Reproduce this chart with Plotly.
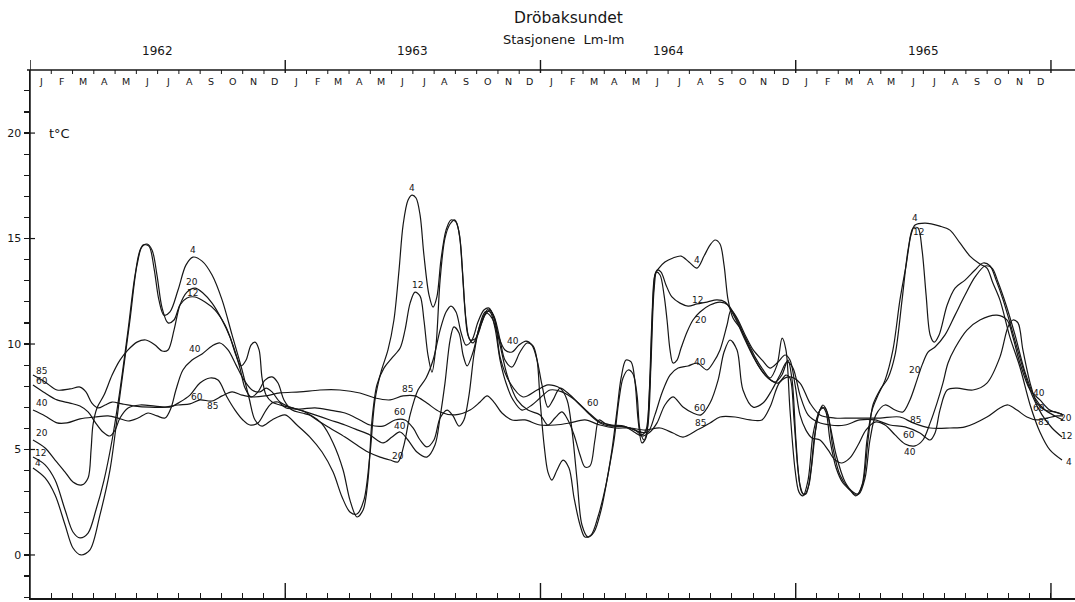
import plotly.graph_objects as go

# Drøbaksundet, stations Lm-Im: temperature (deg C) at six depths, Jan 1962 - Dec 1965.
# x = months since 1 Jan 1962, y = temperature.

MONTH_LETTERS = ["J", "F", "M", "A", "M", "J", "J", "A", "S", "O", "N", "D"]
YEARS = ["1962", "1963", "1964", "1965"]
Y_TICKS = list(range(-2, 23))
Y_LABELLED = [0, 5, 10, 15, 20]

depth_4 = [
    [0.14, 4.12], [0.71, 3.65], [1.18, 2.84], [1.65, 1.42], [2.02, 0.33], [2.40, 0.00],
    [2.82, 0.24], [3.29, 1.90], [3.76, 4.03], [4.23, 7.58], [4.70, 11.14], [5.03, 13.74],
    [5.31, 14.69], [5.59, 14.64], [5.83, 13.60], [6.06, 12.09], [6.30, 11.37], [6.58, 11.52],
    [6.96, 12.56], [7.33, 13.74], [7.66, 14.12], [8.09, 13.93], [8.56, 13.27], [9.03, 12.09],
    [9.50, 10.43], [9.97, 8.77], [10.30, 7.44], [10.58, 6.40], [10.91, 6.11], [11.38, 6.40],
    [11.99, 6.64], [12.55, 6.16], [13.16, 5.59], [13.73, 4.88], [14.25, 3.93], [14.67, 2.75],
    [15.04, 2.04], [15.37, 1.94], [15.70, 2.61], [15.98, 4.74], [16.22, 7.35], [16.50, 8.67],
    [16.83, 9.72], [17.11, 11.14], [17.35, 13.51], [17.54, 15.64], [17.77, 16.82], [17.96, 17.06],
    [18.15, 16.92], [18.34, 16.11], [18.52, 14.22], [18.76, 12.32], [18.95, 11.75], [19.13, 12.23],
    [19.32, 13.98], [19.56, 15.40], [19.79, 15.88], [20.03, 15.78], [20.22, 14.93], [20.36, 13.03],
    [20.50, 11.14], [20.69, 10.19], [20.97, 10.28], [21.25, 11.04], [21.53, 11.66], [21.81, 11.33],
    [22.10, 10.19], [22.33, 9.24], [22.66, 8.91], [23.04, 9.62], [23.37, 10.05], [23.65, 9.91],
    [23.84, 9.24], [23.98, 7.35], [24.17, 5.21], [24.35, 3.93], [24.54, 3.55], [24.78, 4.03],
    [25.06, 4.50], [25.34, 4.12], [25.58, 2.70], [25.86, 1.42], [26.09, 0.85], [26.38, 0.95],
    [26.70, 1.80], [27.08, 3.32], [27.36, 4.98], [27.60, 6.87], [27.79, 8.39], [28.02, 9.24],
    [28.26, 9.15], [28.45, 8.15], [28.59, 6.40], [28.77, 5.31], [28.96, 5.55], [29.10, 7.35],
    [29.24, 11.14], [29.38, 13.27], [29.57, 13.60], [29.85, 13.89], [30.23, 14.08], [30.61, 14.17],
    [30.98, 13.89], [31.36, 13.60], [31.69, 14.17], [31.97, 14.69], [32.21, 14.93], [32.44, 14.74],
    [32.63, 13.74], [32.82, 12.09], [33.05, 11.23], [33.38, 10.76], [33.76, 10.05], [34.09, 9.38],
    [34.41, 8.86], [34.79, 8.39], [35.12, 9.00], [35.36, 10.28], [35.54, 9.72], [35.73, 6.87],
    [35.97, 4.03], [36.15, 2.99], [36.34, 2.80], [36.58, 3.55], [36.81, 5.69], [37.04, 6.64],
    [37.24, 7.01], [37.42, 6.78], [37.61, 5.45], [37.90, 4.12], [38.22, 3.41], [38.55, 3.08],
    [38.83, 2.80], [39.12, 3.32], [39.35, 5.45], [39.59, 6.87], [39.87, 7.58], [40.20, 8.29],
    [40.57, 9.72], [40.90, 12.09], [41.19, 13.74], [41.42, 15.17], [41.61, 15.64], [42.08, 15.73],
    [42.78, 15.59], [43.25, 15.40], [43.72, 14.79], [44.19, 14.17], [44.66, 13.79], [44.99, 13.60],
    [45.27, 12.89], [45.60, 12.09], [46.07, 10.33], [46.54, 8.91], [47.02, 7.11], [47.48, 5.83],
    [47.95, 4.98], [48.52, 4.50],
]

depth_12 = [
    [0.14, 4.64], [0.71, 4.27], [1.18, 3.55], [1.65, 2.13], [2.02, 1.09], [2.35, 0.81],
    [2.73, 1.04], [3.10, 2.13], [3.48, 3.55], [3.86, 5.45], [4.23, 7.82], [4.61, 10.66],
    [4.94, 13.27], [5.22, 14.55], [5.50, 14.74], [5.74, 14.45], [5.97, 13.27], [6.21, 11.71],
    [6.49, 11.00], [6.77, 11.14], [7.05, 11.85], [7.38, 12.18], [7.76, 12.23], [8.23, 11.99],
    [8.70, 11.61], [9.17, 10.90], [9.54, 9.95], [9.87, 8.86], [10.11, 7.91], [10.39, 7.49],
    [10.72, 7.73], [11.05, 8.29], [11.38, 8.44], [11.66, 8.15], [11.94, 7.35], [12.32, 6.87],
    [12.79, 6.73], [13.26, 6.59], [13.73, 6.21], [14.25, 5.31], [14.72, 4.03], [15.04, 2.61],
    [15.37, 1.80], [15.66, 2.13], [15.89, 3.55], [16.08, 6.40], [16.31, 8.06], [16.64, 8.86],
    [17.02, 9.34], [17.40, 9.81], [17.63, 10.66], [17.87, 11.94], [18.10, 12.46], [18.34, 12.27],
    [18.52, 11.14], [18.71, 9.48], [18.90, 8.67], [19.09, 9.95], [19.28, 13.03], [19.51, 15.02],
    [19.75, 15.69], [19.98, 15.88], [20.17, 15.31], [20.31, 13.74], [20.45, 11.61], [20.59, 10.43],
    [20.83, 10.05], [21.11, 10.66], [21.39, 11.37], [21.63, 11.61], [21.86, 11.14], [22.10, 9.38],
    [22.57, 8.15], [23.18, 7.49], [23.84, 7.82], [24.35, 8.06], [24.92, 7.91], [25.25, 7.35],
    [25.48, 5.92], [25.72, 3.55], [25.95, 1.42], [26.23, 0.85], [26.52, 1.09], [26.85, 2.13],
    [27.17, 3.79], [27.46, 5.45], [27.69, 7.35], [27.88, 8.39], [28.12, 8.77], [28.35, 8.58],
    [28.54, 7.58], [28.68, 5.92], [28.87, 5.45], [29.05, 6.16], [29.20, 9.24], [29.34, 12.56],
    [29.48, 13.51], [29.67, 13.41], [29.90, 12.80], [30.18, 12.23], [30.56, 11.94], [30.94, 11.80],
    [31.36, 11.90], [31.83, 11.99], [32.30, 12.09], [32.68, 11.99], [33.15, 11.23], [33.62, 10.19],
    [34.09, 9.24], [34.56, 8.53], [35.03, 8.20], [35.35, 8.53], [35.63, 9.24], [35.83, 8.29],
    [36.01, 5.45], [36.20, 3.32], [36.39, 2.84], [36.62, 3.32], [36.86, 5.45], [37.09, 6.73],
    [37.28, 7.11], [37.52, 6.64], [37.75, 5.07], [38.08, 3.79], [38.46, 3.18], [38.88, 2.84],
    [39.16, 3.41], [39.40, 5.45], [39.63, 7.11], [39.96, 7.82], [40.34, 8.39], [40.67, 9.48],
    [41.00, 12.09], [41.28, 14.45], [41.52, 15.50], [41.75, 15.50], [41.94, 14.45], [42.13, 12.32],
    [42.32, 10.43], [42.51, 10.09], [42.74, 10.43], [43.12, 11.85], [43.49, 12.65], [43.96, 13.03],
    [44.43, 13.51], [44.81, 13.84], [45.14, 13.70], [45.42, 13.03], [45.75, 12.09], [46.17, 10.66],
    [46.64, 9.00], [47.11, 7.58], [47.58, 6.64], [48.05, 6.02], [48.52, 5.59],
]

depth_20 = [
    [0.14, 5.45], [0.71, 5.07], [1.18, 4.50], [1.65, 3.93], [2.02, 3.46], [2.44, 3.32],
    [2.73, 3.65], [2.87, 4.98], [2.96, 6.16], [3.15, 6.97], [3.48, 7.58], [3.86, 8.53],
    [4.23, 9.24], [4.61, 9.72], [5.03, 10.09], [5.45, 10.19], [5.88, 9.95], [6.21, 9.67],
    [6.49, 9.72], [6.77, 10.66], [7.05, 11.85], [7.38, 12.46], [7.76, 12.65], [8.13, 12.42],
    [8.56, 11.94], [9.03, 11.14], [9.40, 10.33], [9.68, 9.48], [9.92, 8.96], [10.16, 9.24],
    [10.39, 9.95], [10.58, 10.09], [10.77, 9.72], [10.91, 8.39], [11.10, 7.58], [11.38, 7.25],
    [11.75, 7.11], [12.32, 6.97], [12.93, 6.78], [13.49, 6.40], [14.10, 6.02], [14.81, 5.59],
    [15.37, 5.21], [15.89, 4.88], [16.46, 4.64], [16.93, 4.50], [17.30, 4.41], [17.58, 5.21],
    [17.87, 6.64], [18.24, 7.82], [18.62, 8.39], [18.95, 9.24], [19.28, 10.66], [19.56, 11.52],
    [19.79, 11.80], [20.03, 11.52], [20.26, 10.57], [20.50, 9.95], [20.78, 10.19], [21.06, 11.04],
    [21.34, 11.61], [21.58, 11.71], [21.81, 11.23], [22.10, 9.95], [22.43, 8.53], [22.90, 7.35],
    [23.41, 6.87], [23.98, 6.64], [24.35, 6.16], [24.68, 6.49], [25.01, 6.78], [25.29, 6.40],
    [25.58, 5.69], [25.86, 4.74], [26.09, 4.17], [26.33, 4.22], [26.56, 5.45], [26.75, 6.40],
    [27.08, 6.21], [27.50, 6.11], [27.97, 6.07], [28.45, 5.92], [28.77, 5.69], [28.96, 5.92],
    [29.15, 8.29], [29.29, 12.09], [29.43, 13.41], [29.62, 13.27], [29.81, 12.32], [29.95, 11.14],
    [30.09, 9.72], [30.23, 9.10], [30.42, 9.24], [30.61, 9.81], [30.89, 10.57], [31.17, 11.14],
    [31.50, 11.52], [31.97, 11.85], [32.44, 11.99], [32.82, 11.85], [33.29, 11.04], [33.76, 9.95],
    [34.23, 9.00], [34.70, 8.39], [35.17, 8.15], [35.54, 8.53], [35.73, 8.39], [35.92, 6.40],
    [36.11, 4.03], [36.30, 2.94], [36.48, 2.89], [36.72, 4.03], [36.95, 6.02], [37.14, 6.87],
    [37.38, 6.97], [37.61, 6.16], [37.90, 4.74], [38.32, 3.46], [38.69, 2.99], [38.97, 2.89],
    [39.26, 3.65], [39.49, 5.45], [39.77, 6.64], [40.20, 7.11], [40.67, 6.87], [41.04, 6.78],
    [41.37, 7.35], [41.70, 8.29], [41.94, 9.00], [42.22, 9.62], [42.55, 9.86], [43.02, 10.43],
    [43.49, 11.37], [43.96, 12.32], [44.43, 13.18], [44.90, 13.70], [45.23, 13.60], [45.51, 12.94],
    [45.89, 11.85], [46.31, 10.43], [46.78, 8.67], [47.25, 7.44], [47.72, 6.87], [48.19, 6.59],
    [48.57, 6.40],
]

depth_40 = [
    [0.14, 6.87], [0.71, 6.59], [1.27, 6.26], [1.74, 6.26], [2.35, 6.45], [3.06, 6.54],
    [3.67, 6.59], [4.14, 6.49], [4.61, 6.35], [5.08, 6.49], [5.55, 6.73], [5.97, 6.59],
    [6.35, 6.49], [6.63, 6.97], [6.86, 7.82], [7.19, 8.77], [7.62, 9.24], [8.09, 9.53],
    [8.56, 9.91], [8.93, 10.05], [9.31, 9.72], [9.69, 9.00], [10.06, 8.29], [10.44, 7.82],
    [10.81, 7.73], [11.10, 7.91], [11.38, 7.73], [11.75, 7.25], [12.22, 7.01], [12.69, 6.87],
    [13.40, 6.64], [14.10, 6.40], [14.81, 6.16], [15.42, 5.92], [15.98, 5.69], [16.60, 5.31],
    [17.02, 5.59], [17.40, 5.83], [17.77, 5.45], [18.19, 4.88], [18.66, 4.64], [19.04, 5.21],
    [19.28, 6.54], [19.51, 8.15], [19.75, 10.19], [19.93, 10.81], [20.17, 10.52], [20.36, 9.48],
    [20.55, 8.96], [20.83, 9.62], [21.16, 10.90], [21.44, 11.47], [21.72, 11.23], [22.00, 10.43],
    [22.33, 9.72], [22.66, 9.62], [22.99, 9.95], [23.32, 10.14], [23.60, 9.95], [23.84, 9.24],
    [24.07, 8.06], [24.35, 7.01], [24.59, 7.35], [24.92, 7.91], [25.39, 7.58], [25.86, 7.11],
    [26.33, 6.64], [26.80, 6.26], [27.27, 6.11], [27.74, 6.11], [28.21, 6.02], [28.68, 5.83],
    [29.05, 5.83], [29.38, 6.64], [29.71, 7.68], [30.09, 8.53], [30.47, 8.86], [30.94, 8.96],
    [31.36, 9.10], [31.83, 8.77], [32.11, 9.10], [32.44, 9.72], [32.77, 10.90], [32.96, 11.61],
    [33.24, 11.23], [33.62, 10.43], [34.00, 9.72], [34.42, 9.24], [34.79, 8.86], [35.17, 9.15],
    [35.50, 9.48], [35.73, 9.24], [35.97, 8.06], [36.20, 6.64], [36.48, 5.92], [36.76, 5.55],
    [37.14, 5.45], [37.52, 4.98], [37.85, 4.50], [38.17, 4.36], [38.55, 4.60], [38.93, 5.21],
    [39.30, 5.92], [39.73, 6.30], [40.20, 6.16], [40.67, 5.69], [41.14, 5.26], [41.61, 5.17],
    [41.98, 5.45], [42.32, 6.26], [42.64, 7.20], [42.92, 8.15], [43.16, 9.10], [43.49, 9.81],
    [44.05, 10.66], [44.66, 11.14], [45.46, 11.37], [45.93, 11.14], [46.21, 10.33], [46.54, 9.10],
    [47.02, 7.82], [47.48, 7.35], [47.95, 6.87], [48.52, 6.68],
]

depth_60 = [
    [0.14, 8.06], [0.71, 7.68], [1.27, 7.35], [1.88, 7.20], [2.35, 7.06], [2.73, 6.78],
    [3.06, 6.30], [3.43, 5.83], [3.76, 5.64], [4.00, 5.92], [4.23, 6.49], [4.61, 6.97],
    [5.17, 7.11], [5.88, 7.06], [6.58, 7.01], [7.05, 7.25], [7.52, 7.58], [7.99, 8.15],
    [8.46, 8.39], [8.84, 8.29], [9.26, 7.49], [9.64, 6.87], [10.01, 6.40], [10.34, 6.16],
    [10.72, 6.26], [11.10, 6.87], [11.38, 7.20], [11.66, 7.25], [12.04, 6.97], [12.69, 6.92],
    [13.40, 6.97], [14.10, 6.87], [14.81, 6.73], [15.51, 6.40], [15.98, 6.16], [16.60, 6.11],
    [17.16, 6.40], [17.63, 6.40], [18.01, 6.02], [18.34, 5.45], [18.66, 5.12], [18.99, 5.45],
    [19.28, 6.49], [19.61, 6.87], [19.89, 6.59], [20.17, 6.11], [20.40, 6.40], [20.64, 7.58],
    [20.87, 9.48], [21.11, 10.76], [21.39, 11.52], [21.63, 11.52], [21.86, 10.76], [22.10, 9.24],
    [22.38, 8.15], [22.71, 7.35], [23.13, 6.87], [23.60, 7.11], [23.98, 7.44], [24.45, 7.82],
    [25.01, 7.73], [25.62, 7.35], [26.23, 6.78], [26.80, 6.30], [27.36, 6.16], [27.93, 6.11],
    [28.40, 5.83], [28.77, 5.64], [29.15, 5.83], [29.48, 6.26], [29.85, 7.11], [30.23, 7.49],
    [30.70, 7.01], [31.17, 6.73], [31.55, 6.64], [31.97, 7.20], [32.35, 8.29], [32.63, 9.62],
    [32.91, 10.19], [33.24, 9.72], [33.52, 7.82], [34.00, 7.01], [34.46, 7.20], [34.88, 7.82],
    [35.26, 8.53], [35.59, 9.15], [35.87, 8.86], [36.20, 7.58], [36.58, 6.64], [37.04, 6.30],
    [37.61, 6.16], [38.32, 6.16], [39.02, 6.40], [39.73, 6.40], [40.43, 6.16], [41.14, 6.07],
    [41.84, 5.78], [42.32, 5.45], [42.55, 5.78], [42.78, 6.87], [43.12, 7.82], [43.58, 7.91],
    [44.33, 7.82], [44.99, 8.15], [45.60, 9.38], [45.98, 10.81], [46.21, 11.14], [46.45, 11.00],
    [46.68, 9.72], [47.02, 8.15], [47.34, 7.20], [47.72, 6.87], [48.19, 6.78], [48.57, 6.64],
]

depth_85 = [
    [0.14, 8.53], [0.71, 8.20], [1.27, 7.82], [1.88, 7.87], [2.35, 7.96], [2.63, 7.73],
    [2.91, 7.20], [3.20, 6.97], [3.53, 7.11], [3.86, 7.25], [4.33, 7.16], [4.94, 7.06],
    [5.64, 7.01], [6.35, 7.01], [6.96, 7.11], [7.52, 7.16], [7.99, 7.35], [8.56, 7.30],
    [9.03, 7.54], [9.50, 7.73], [9.97, 7.58], [10.44, 7.49], [11.05, 7.54], [11.75, 7.68],
    [12.69, 7.73], [13.63, 7.82], [14.57, 7.82], [15.51, 7.68], [16.22, 7.44], [16.93, 7.35],
    [17.54, 7.54], [18.10, 7.54], [18.66, 7.20], [19.28, 6.78], [19.98, 6.64], [20.69, 6.87],
    [21.16, 7.25], [21.49, 7.54], [21.81, 7.25], [22.19, 6.73], [22.66, 6.40], [23.27, 6.40],
    [23.98, 6.16], [24.68, 6.16], [25.39, 6.26], [26.09, 6.40], [26.80, 6.16], [27.50, 6.02],
    [28.21, 6.02], [28.91, 5.92], [29.62, 6.02], [30.23, 5.78], [30.70, 5.59], [31.36, 5.92],
    [31.97, 6.26], [32.44, 6.54], [33.15, 6.54], [33.85, 6.40], [34.41, 6.40], [34.79, 7.01],
    [35.26, 8.20], [35.73, 8.44], [36.20, 8.15], [36.67, 7.20], [37.14, 6.64], [37.85, 6.49],
    [38.55, 6.49], [39.26, 6.49], [39.96, 6.49], [40.90, 6.54], [41.52, 6.26], [42.32, 6.02],
    [43.25, 6.02], [43.96, 6.07], [44.99, 6.54], [45.60, 6.97], [45.98, 7.11], [46.40, 6.87],
    [46.87, 6.54], [47.34, 6.40], [47.81, 6.49], [48.28, 6.59], [48.57, 6.59],
]

SERIES = [("4", depth_4), ("12", depth_12), ("20", depth_20),
          ("40", depth_40), ("60", depth_60), ("85", depth_85)]

# depth labels written beside the curves: (text, month, temperature)
CURVE_LABELS = [
    ("85", 0.56, 8.70), ("60", 0.56, 8.25), ("40", 0.56, 7.20), ("20", 0.56, 5.80),
    ("12", 0.47, 4.85), ("4", 0.38, 4.38),
    ("4", 7.66, 14.45), ("20", 7.62, 12.95), ("12", 7.62, 12.40), ("40", 7.76, 9.76),
    ("60", 7.85, 7.50), ("85", 8.56, 7.05),
    ("4", 17.96, 17.40), ("12", 18.24, 12.80), ("85", 17.77, 7.85), ("60", 17.40, 6.80),
    ("40", 17.40, 6.12), ("20", 17.30, 4.70), ("40", 22.71, 10.14),
    ("60", 26.47, 7.20), ("4", 31.36, 14.00), ("12", 31.36, 12.10), ("20", 31.55, 11.15),
    ("40", 31.50, 9.15), ("60", 31.50, 6.97), ("85", 31.50, 6.26),
    ("4", 41.61, 15.97), ("12", 41.75, 15.31), ("20", 41.61, 8.77), ("85", 41.61, 6.40),
    ("60", 41.33, 5.69), ("40", 41.37, 4.88),
    ("40", 47.44, 7.68), ("60", 47.44, 6.97), ("85", 47.67, 6.30),
]
# labels at the right-hand ends of the 20, 12 and 4 m curves (right-aligned at the sheet edge)
END_LABELS = [("20", 49.07, 6.49), ("12", 49.07, 5.64), ("4", 49.07, 4.41)]

N_MONTHS = 48
X_RIGHT = 49.13          # axis lines run on to the right edge of the sheet
Y_RANGE = [-2.04, 22.99]
INK = "#161616"
FONT = "DejaVu Sans"

fig = go.Figure()
for depth, pts in SERIES:
    fig.add_trace(go.Scatter(
        x=[p[0] for p in pts], y=[p[1] for p in pts], mode="lines", name=f"{depth} m",
        line=dict(color=INK, width=1.2, shape="spline", smoothing=0.9),
        hoverinfo="skip", showlegend=False))

# paper-coordinate helpers for the frame decorations
plot_h_px = 528.0
plot_w_px = 1045.0


def py(px_off):
    return px_off / plot_h_px


def px(px_off):
    return px_off / plot_w_px


shapes = []
# left axis stub above the top axis
shapes.append(dict(type="line", xref="x", yref="paper", x0=0, x1=0, y0=0, y1=1 + py(10),
                   line=dict(color=INK, width=1.5)))
# top axis line, starting a little left of the frame
shapes.append(dict(type="line", xref="paper", yref="paper", x0=-px(3), x1=1, y0=1, y1=1,
                   line=dict(color=INK, width=1.5)))
# year boundaries: tall marks on top and bottom axes
for yr in range(1, len(YEARS) + 1):
    xm = 12 * yr
    shapes.append(dict(type="line", xref="x", yref="paper", x0=xm, x1=xm,
                       y0=1 - py(3), y1=1 + py(10), line=dict(color=INK, width=1.4)))
    shapes.append(dict(type="line", xref="x", yref="paper", x0=xm, x1=xm,
                       y0=0, y1=py(15), line=dict(color=INK, width=1.4)))
# month marks under the top axis
for m in range(1, N_MONTHS):
    if m % 12:
        shapes.append(dict(type="line", xref="x", yref="paper", x0=m, x1=m,
                           y0=1 - py(4), y1=1, line=dict(color=INK, width=1)))
# labelled temperature ticks cross the axis
for v in Y_LABELLED:
    shapes.append(dict(type="line", xref="paper", yref="y", x0=0, x1=px(5), y0=v, y1=v,
                       line=dict(color=INK, width=1.2)))

annotations = []


def note(text, x, y, size, xref="x", yref="y", xanchor="center"):
    annotations.append(dict(x=x, y=y, xref=xref, yref=yref, text=text, showarrow=False,
                            xanchor=xanchor, yanchor="middle",
                            font=dict(family=FONT, size=size, color=INK)))


for i in range(N_MONTHS):
    note(MONTH_LETTERS[i % 12], i + 0.5, 1 - py(12), 9.5, yref="paper")
for k, yr in enumerate(YEARS):
    note(yr, 12 * k + 6, 1 + py(19), 12, yref="paper")
note("Dröbaksundet", 25.3, 1 + py(52), 15.5, yref="paper")
note("Stasjonene  Lm-Im", 25.1, 1 + py(31), 13, yref="paper")
note("t°C", 1.41, 20, 13)
for text, xm, yv in CURVE_LABELS:
    note(text, xm, yv, 9)
for text, xm, yv in END_LABELS:
    note(text, xm, yv, 9, xanchor="right")

fig.update_layout(
    width=1075, height=602,
    margin=dict(l=30, r=0, t=70, b=4),
    paper_bgcolor="white", plot_bgcolor="white",
    xaxis=dict(range=[0, X_RIGHT], showgrid=False, zeroline=False, showline=True,
               linecolor=INK, linewidth=1.5, ticks="inside", ticklen=5, tickwidth=1,
               tickcolor=INK, tickmode="array", tickvals=list(range(0, N_MONTHS + 1)),
               showticklabels=False, fixedrange=True),
    yaxis=dict(range=Y_RANGE, showgrid=False, zeroline=False, showline=True,
               linecolor=INK, linewidth=1.5, ticks="outside", ticklen=5, tickwidth=1.2,
               tickcolor=INK, tickmode="array", tickvals=Y_TICKS,
               ticktext=[str(v) if v in Y_LABELLED else "" for v in Y_TICKS],
               tickfont=dict(family=FONT, size=11, color=INK), fixedrange=True),
    shapes=shapes,
    annotations=annotations,
)

fig.write_html("out.html", config={"displayModeBar": False, "staticPlot": True})
